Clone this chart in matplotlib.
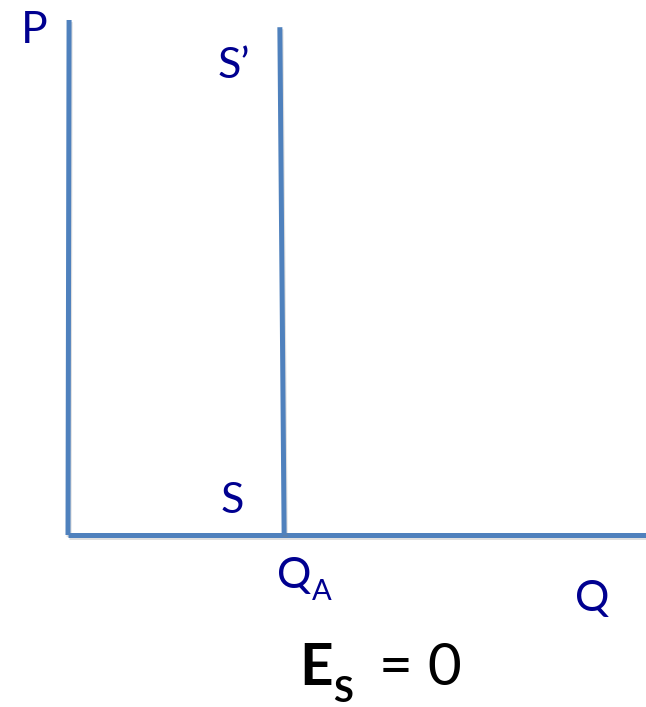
import matplotlib.pyplot as plt
import matplotlib.patheffects as pe

# =============================================================================
#                                  Data
# =============================================================================

# axes of the diagram (quantity, price)
p_axis_q = [0.005, 0.0]
p_axis_p = [1.0, 0.0]
q_axis_q = [0.0, 2.70]
q_axis_p = [0.0, 0.0]

# perfectly inelastic supply at Q_A
supply_q = [0.99, 1.01]
supply_p = [0.986, 0.0]

line_col = '#4f81bd'
text_col = '#000090'

plt.rcParams['font.family'] = ['Lato', 'DejaVu Sans']

# =============================================================================
#                                  Figure
# =============================================================================

W, H = 646, 707
fig = plt.figure(figsize=(W / 100, H / 100), dpi=100)

# origin of the diagram at pixel (68, 535), top of P axis at y = 20
x0, y0, x1, y1 = 68, 535, 646, 20
ax = fig.add_axes([x0 / W, (H - y0) / H, (x1 - x0) / W, (y0 - y1) / H])
ax.set_xlim(0, (x1 - x0) / 214)
ax.set_ylim(0, 1)
ax.axis('off')

shadow = [pe.SimpleLineShadow(offset=(0.8, -1.5), alpha=0.25, shadow_color='gray'),
          pe.Normal()]

for q, p in [(p_axis_q, p_axis_p), (q_axis_q, q_axis_p), (supply_q, supply_p)]:
    ax.plot(q, p, color=line_col, linewidth=3.6, solid_capstyle='butt',
            clip_on=False, path_effects=shadow)


def px(x, y):
    """ pixel position -> data position """
    return (x - x0) / 214, (y0 - y) / (y0 - y1)


def label(x, y, s, size, **kw):
    # x is the centre, y the baseline (in pixels)
    ax.text(*px(x, y), s, fontsize=size, ha='center', va='baseline',
            clip_on=False, **kw)


label(34, 43, 'P', 32, color=text_col)
label(234, 78, 'S\u2019', 31, color=text_col)
label(232, 513, 'S', 31, color=text_col)
label(294, 588, 'Q', 31, color=text_col)
label(322, 600, 'A', 21, color=text_col)
label(592, 611, 'Q', 31, color=text_col)

label(316, 685, 'E', 42, color='black', fontweight='bold')
label(343, 702, 'S', 26, color='black', fontweight='bold')
label(420, 685, '= 0', 42, color='black')

fig.savefig('out.png', dpi=100, facecolor='white')
